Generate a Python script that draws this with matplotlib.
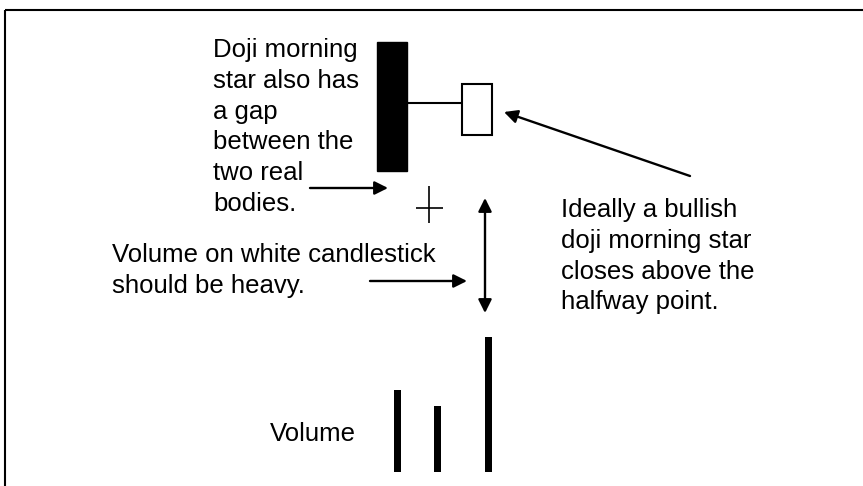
import matplotlib
matplotlib.use("Agg")
import matplotlib.pyplot as plt

# candles (price units, higher = up)
candle_x = [392, 429, 477]
candle_open = [444, 278, 351]
candle_close = [315, 278, 402]
candle_high = [444, 300, 402]
candle_low = [315, 263, 351]
body_width = 30
connector_price = 383

# volume bars
vol_x = [397, 437.5, 488.5]
vol_base = 14
volume = [82, 66, 135]

H = 486
plt.rcParams['font.family'] = ['Liberation Sans', 'DejaVu Sans']

fig = plt.figure(figsize=(8.63, 4.86), dpi=100)
ax = fig.add_axes([0, 0, 1, 1])
ax.set_xlim(0, 863)
ax.set_ylim(0, H)
ax.axis('off')

# frame
ax.plot([4.5, 863], [H - 10, H - 10], color='k', lw=1.5, solid_capstyle='butt')
ax.plot([4.5, 4.5], [0, H - 10], color='k', lw=1.5, solid_capstyle='butt')

# connector between first two bodies
ax.plot([candle_x[0], candle_x[2] - body_width / 2], [connector_price] * 2, color='k', lw=1.5)

# black candle
ax.bar(candle_x[0], candle_close[0] - candle_open[0], bottom=candle_open[0],
       width=body_width, color='k', edgecolor='k', lw=1, zorder=3)
# doji
ax.hlines(candle_open[1], candle_x[1] - 13.5, candle_x[1] + 13.5, color='k', lw=1.2)
ax.vlines(candle_x[1], candle_low[1], candle_high[1], color='k', lw=1.2)
# white candle
ax.bar(candle_x[2], candle_close[2] - candle_open[2], bottom=candle_open[2],
       width=body_width, facecolor='white', edgecolor='k', lw=1.5, zorder=3)

# volume
ax.bar(vol_x, volume, bottom=vol_base, width=7, color='k')

fs = 18.5
pitch = 30.8

def lines(txt_lines, x, base):
    for i, t in enumerate(txt_lines):
        ax.text(x, H - (base + i * pitch), t, fontsize=fs, va='baseline', ha='left')

lines(["Doji morning", "star also has", "a gap", "between the", "two real", "bodies."], 213, 57)
lines(["Volume on white candlestick", "should be heavy."], 112, 262)
lines(["Ideally a bullish", "doji morning star", "closes above the", "halfway point."], 561, 217)
lines(["Volume"], 270, 441)

arrow = dict(arrowstyle='-|>', lw=1.7, color='k', mutation_scale=20, shrinkA=0, shrinkB=0)
ax.annotate('', xy=(388, H - 188), xytext=(310, H - 188), arrowprops=arrow)
ax.annotate('', xy=(467, H - 281), xytext=(370, H - 281), arrowprops=arrow)
ax.annotate('', xy=(504, H - 112), xytext=(690, H - 176), arrowprops=arrow)
ax.annotate('', xy=(485, H - 198), xytext=(485, H - 313),
            arrowprops=dict(arrowstyle='<|-|>', lw=1.7, color='k', mutation_scale=20,
                            shrinkA=0, shrinkB=0))

fig.savefig("out.png", dpi=100)
